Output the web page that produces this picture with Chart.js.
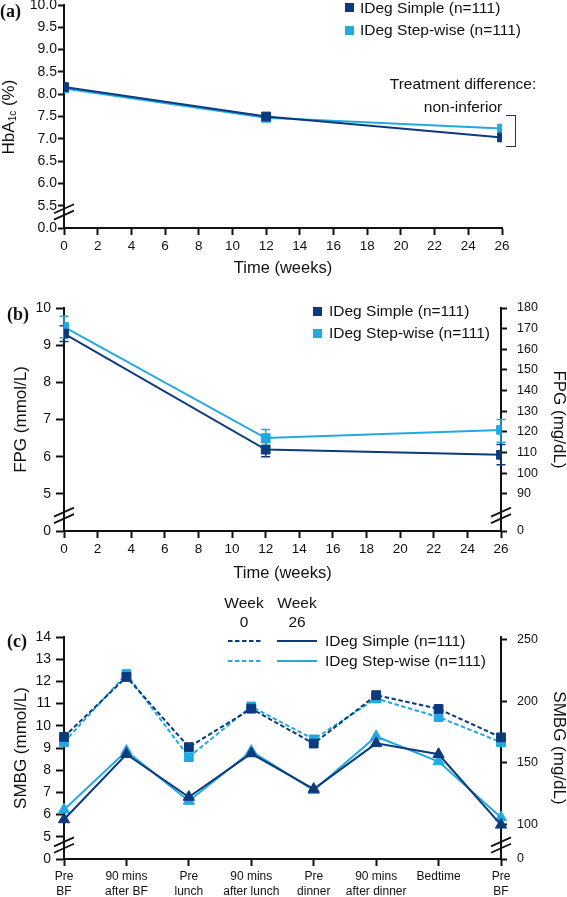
<!DOCTYPE html>
<html>
<head>
<meta charset="utf-8">
<script src="https://cdn.jsdelivr.net/npm/chart.js@4.4.0/dist/chart.umd.min.js"></script>
<style>
  body { margin: 0; background: #fff; width: 567px; height: 897px; position: relative; overflow: hidden;
         font-family: "Liberation Sans", Arial, sans-serif; color: #111; }
  canvas { position: absolute; left: 0; }
  .t { position: absolute; white-space: nowrap; font-size: 15.5px; line-height: 18px; }
  .c { transform: translateX(-50%); }
  .panel { position: absolute; font-family: "Liberation Serif", serif; font-weight: bold; font-size: 18px; line-height: 20px; }
  .sq { position: absolute; width: 9px; height: 9px; }
  .rot { position: absolute; white-space: nowrap; font-size: 17px; line-height: 20px; transform: translate(-50%, -50%) rotate(-90deg); }
  .rot sub { font-size: 10px; vertical-align: -2px; }
</style>
</head>
<body>
<canvas id="chartA" width="567" height="290" style="top:-5px"></canvas>
<canvas id="chartB" width="567" height="295" style="top:290px"></canvas>
<canvas id="chartC" width="567" height="317" style="top:580px"></canvas>

<!-- panel (a) extras -->
<div class="panel" style="left:0;top:1px">(a)</div>
<div class="rot" style="left:11px;top:117px">HbA<sub>1c</sub> (%)</div>
<div class="sq" style="left:345px;top:3px;background:#0c3a7d"></div>
<div class="t" style="left:360px;top:-1px">IDeg Simple (n=111)</div>
<div class="sq" style="left:345px;top:26px;background:#22a9e1"></div>
<div class="t" style="left:360px;top:21px">IDeg Step-wise (n=111)</div>
<div class="t c" style="left:463px;top:75px">Treatment difference:</div>
<div class="t c" style="left:463px;top:98px">non-inferior</div>
<div style="position:absolute;left:506px;top:115px;width:9px;height:30px;border:1.5px solid #333;border-left:none"></div>

<!-- panel (b) extras -->
<div class="panel" style="left:7px;top:304px">(b)</div>
<div class="sq" style="left:313px;top:307px;background:#0c3a7d"></div>
<div class="t" style="left:329px;top:302px">IDeg Simple (n=111)</div>
<div class="sq" style="left:313px;top:329px;background:#22a9e1"></div>
<div class="t" style="left:329px;top:324px">IDeg Step-wise (n=111)</div>

<!-- panel (c) extras -->
<div class="panel" style="left:7px;top:631px">(c)</div>
<div class="t c" style="left:244px;top:594px">Week</div>
<div class="t c" style="left:244px;top:613px">0</div>
<div class="t c" style="left:297px;top:594px">Week</div>
<div class="t c" style="left:297px;top:613px">26</div>
<svg style="position:absolute;left:225px;top:630px" width="95" height="40">
  <line x1="3" y1="11" x2="38" y2="11" stroke="#0c3a7d" stroke-width="2" stroke-dasharray="4.5 2.5"/>
  <line x1="3" y1="31" x2="38" y2="31" stroke="#22a9e1" stroke-width="2" stroke-dasharray="4.5 2.5"/>
  <line x1="52" y1="11" x2="92" y2="11" stroke="#0c3a7d" stroke-width="2"/>
  <line x1="52" y1="31" x2="92" y2="31" stroke="#22a9e1" stroke-width="2"/>
</svg>
<div class="t" style="left:325px;top:632px">IDeg Simple (n=111)</div>
<div class="t" style="left:325px;top:652px">IDeg Step-wise (n=111)</div>

<script>
// ---- data ----
const weeks = [0, 12, 26];

const hba1cSimple = [8.16, 7.50, 7.03];
const hba1cStep = [8.13, 7.47, 7.23];
const hba1cTicks = [0, 5.5, 6.0, 6.5, 7.0, 7.5, 8.0, 8.5, 9.0, 9.5, 10.0];

const fpgSimple = [9.31, 6.19, 6.05];
const fpgSimpleLo = [9.10, 6.00, 5.78];
const fpgSimpleHi = [9.52, 6.38, 6.33];
const fpgStep = [9.49, 6.50, 6.72];
const fpgStepLo = [9.20, 6.30, 6.39];
const fpgStepHi = [9.78, 6.73, 7.00];
const fpgMmolTicks = [0, 5, 6, 7, 8, 9, 10];
const fpgMgTicks = [0, 90, 100, 110, 120, 130, 140, 150, 160, 170, 180];

const smbgLabels = [['Pre', 'BF'], ['90 mins', 'after BF'], ['Pre', 'lunch'], ['90 mins', 'after lunch'],
                    ['Pre', 'dinner'], ['90 mins', 'after dinner'], 'Bedtime', ['Pre', 'BF']];
const smbgSimpleW0 = [9.50, 12.20, 9.04, 10.77, 9.20, 11.38, 10.76, 9.48];
const smbgStepW0 = [9.26, 12.33, 8.59, 10.87, 9.39, 11.23, 10.39, 9.26];
const smbgSimpleW26 = [5.78, 8.72, 6.79, 8.75, 7.15, 9.21, 8.72, 5.54];
const smbgStepW26 = [6.22, 8.86, 6.61, 8.86, 7.10, 9.52, 8.39, 5.87];
const smbgMmolTicks = [0, 5, 6, 7, 8, 9, 10, 11, 12, 13, 14];
const smbgMgTicks = [0, 100, 150, 200, 250];

const DARK = '#0c3a7d';
const LIGHT = '#22a9e1';
const INK = '#111';

Chart.defaults.font.family = "'Liberation Sans', Arial, sans-serif";
Chart.defaults.color = INK;

const xy = (vals) => vals.map((v, i) => ({ x: weeks[i], y: v }));

// axis with a break: the "0" tick sits at the floor of the visible range
function brokenAxis(ticks, floor, digits, extra) {
  const labels = ticks.map(t => t.toFixed(digits));
  return Object.assign({
    min: floor,
    afterBuildTicks: s => { s.ticks = ticks.map(t => ({ value: t === 0 ? floor : t })); },
    ticks: { callback: (v, i) => labels[i], font: { size: 14 }, autoSkip: false },
    grid: { drawOnChartArea: false, tickLength: 8, tickColor: INK, tickWidth: 2 },
    border: { color: INK, width: 2 }
  }, extra);
}

// little "//" marks across an axis
const axisBreak = {
  id: 'axisBreak',
  afterDraw(chart, args, opts) {
    const ctx = chart.ctx;
    ctx.save();
    ctx.strokeStyle = INK;
    ctx.lineWidth = 1.8;
    (opts.marks || []).forEach(m => {
      const x = m.side === 'right' ? chart.chartArea.right : chart.chartArea.left;
      const y = chart.scales[m.scale].getPixelForValue(m.value);
      [-3.2, 3.2].forEach(d => {
        ctx.beginPath();
        ctx.moveTo(x - 10, y + 4.5 + d);
        ctx.lineTo(x + 10, y - 4.5 + d);
        ctx.stroke();
      });
    });
    ctx.restore();
  }
};

// vertical error bars with caps, read from dataset.errLo / dataset.errHi
const errorBars = {
  id: 'errorBars',
  beforeDatasetsDraw(chart) {
    const ctx = chart.ctx;
    ctx.save();
    ctx.lineWidth = 1.5;
    chart.data.datasets.forEach((ds) => {
      if (!ds.errLo) return;
      const xs = chart.scales.x, ys = chart.scales.y;
      ctx.strokeStyle = ds.borderColor;
      ds.data.forEach((p, i) => {
        const x = xs.getPixelForValue(p.x);
        const y1 = ys.getPixelForValue(ds.errLo[i]);
        const y2 = ys.getPixelForValue(ds.errHi[i]);
        ctx.beginPath();
        ctx.moveTo(x, y1); ctx.lineTo(x, y2);
        ctx.moveTo(x - 4.5, y1); ctx.lineTo(x + 4.5, y1);
        ctx.moveTo(x - 4.5, y2); ctx.lineTo(x + 4.5, y2);
        ctx.stroke();
      });
    });
    ctx.restore();
  }
};

function lineSet(label, data, color, style, dashed) {
  return {
    label, data,
    borderColor: color, backgroundColor: color,
    borderWidth: 2, tension: 0,
    borderDash: dashed ? [4.5, 2.5] : [],
    pointStyle: style, pointRadius: style === 'triangle' ? 6.5 : 6.2,
    pointBorderWidth: 1, pointBorderColor: color, pointBackgroundColor: color
  };
}

const weekAxis = (h, titlePad) => ({
  type: 'linear', min: 0, max: 26,
  afterFit: s => { s.height = h; },
  ticks: { stepSize: 2, font: { size: 13.5 }, padding: 3, maxRotation: 0 },
  grid: { drawOnChartArea: false, tickLength: 7, tickColor: INK, tickWidth: 2 },
  border: { color: INK, width: 2 },
  title: { display: true, text: 'Time (weeks)', font: { size: 16.5 }, padding: { top: 0, bottom: titlePad } }
});

const baseOpts = {
  responsive: false, animation: false,
  plugins: { legend: { display: false }, tooltip: { enabled: false } }
};

// ---- (a) HbA1c ----
new Chart(document.getElementById('chartA'), {
  type: 'line',
  data: {
    datasets: [
      lineSet('IDeg Simple (n=111)', xy(hba1cSimple), DARK, 'rect'),
      lineSet('IDeg Step-wise (n=111)', xy(hba1cStep), LIGHT, 'rect')
    ]
  },
  options: Object.assign({}, baseOpts, {
    layout: { padding: { top: 10, right: 65, left: 0, bottom: 0 } },
    scales: {
      x: weekAxis(57, 6.8),
      y: brokenAxis(hba1cTicks, 5.0, 1, {
        max: 10,
        afterFit: s => { s.width = 64; },
        grid: { drawOnChartArea: false, tickLength: 6, tickColor: INK, tickWidth: 2 },
        ticks: { callback: (v, i) => hba1cTicks[i].toFixed(1), font: { size: 14 }, padding: 1 }
      })
    },
    plugins: Object.assign({}, baseOpts.plugins, {
      axisBreak: { marks: [{ scale: 'y', value: 5.36, side: 'left' }] }
    })
  }),
  plugins: [axisBreak]
});

// ---- (b) FPG ----
const simpleFpg = lineSet('IDeg Simple (n=111)', xy(fpgSimple), DARK, 'rect');
simpleFpg.errLo = fpgSimpleLo; simpleFpg.errHi = fpgSimpleHi;
const stepFpg = lineSet('IDeg Step-wise (n=111)', xy(fpgStep), LIGHT, 'rect');
stepFpg.errLo = fpgStepLo; stepFpg.errHi = fpgStepHi;

new Chart(document.getElementById('chartB'), {
  type: 'line',
  data: { datasets: [simpleFpg, stepFpg] },
  options: Object.assign({}, baseOpts, {
    layout: { padding: { top: 18, right: 0, left: 0, bottom: 0 } },
    scales: {
      x: weekAxis(54, 1.8),
      y: brokenAxis(fpgMmolTicks, 4, 0, {
        max: 10, position: 'left',
        afterFit: s => { s.width = 64; },
        ticks: { callback: (v, i) => String(fpgMmolTicks[i]), font: { size: 14 }, padding: 5 },
        title: { display: true, text: 'FPG (mmol/L)', font: { size: 17, lineHeight: 1 }, padding: { top: 12.5 } }
      }),
      y2: brokenAxis(fpgMgTicks, 72, 0, {
        max: 180, position: 'right',
        afterFit: s => { s.width = 66; },
        grid: { drawOnChartArea: false, tickLength: 6, tickColor: INK, tickWidth: 2 },
        ticks: { callback: (v, i) => String(fpgMgTicks[i]), font: { size: 12.5 }, padding: 10 },
        title: { display: true, text: 'FPG (mg/dL)', font: { size: 17, lineHeight: 1 }, padding: { top: 0 } }
      })
    },
    plugins: Object.assign({}, baseOpts.plugins, {
      axisBreak: { marks: [{ scale: 'y', value: 4.42, side: 'left' }, { scale: 'y', value: 4.42, side: 'right' }] }
    })
  }),
  plugins: [axisBreak, errorBars]
});

// ---- (c) SMBG ----
new Chart(document.getElementById('chartC'), {
  type: 'line',
  data: {
    labels: smbgLabels,
    datasets: [
      lineSet('IDeg Simple week 26', smbgSimpleW26, DARK, 'triangle', false),
      lineSet('IDeg Simple week 0', smbgSimpleW0, DARK, 'rect', true),
      lineSet('IDeg Step-wise week 26', smbgStepW26, LIGHT, 'triangle', false),
      lineSet('IDeg Step-wise week 0', smbgStepW0, LIGHT, 'rect', true)
    ]
  },
  options: Object.assign({}, baseOpts, {
    layout: { padding: { top: 57, right: 0, left: 0, bottom: 0 } },
    scales: {
      x: {
        type: 'category', offset: false,
        afterFit: s => { s.height = 38; },
        ticks: { font: { size: 12, lineHeight: 1.18 }, padding: 4, maxRotation: 0, autoSkip: false },
        grid: { drawOnChartArea: false, offset: false, tickLength: 7, tickColor: INK, tickWidth: 2 },
        border: { color: INK, width: 2 }
      },
      y: brokenAxis(smbgMmolTicks, 4, 0, {
        max: 14, position: 'left',
        afterFit: s => { s.width = 64; },
        ticks: { callback: (v, i) => String(smbgMmolTicks[i]), font: { size: 14 }, padding: 5 },
        title: { display: true, text: 'SMBG (mmol/L)', font: { size: 17, lineHeight: 1 }, padding: { top: 12.5 } }
      }),
      y2: brokenAxis(smbgMgTicks, 72, 0, {
        max: 252, position: 'right',
        afterFit: s => { s.width = 66; },
        grid: { drawOnChartArea: false, tickLength: 6, tickColor: INK, tickWidth: 2 },
        ticks: { callback: (v, i) => String(smbgMgTicks[i]), font: { size: 12.5 }, padding: 10 },
        title: { display: true, text: 'SMBG (mg/dL)', font: { size: 17, lineHeight: 1 }, padding: { top: 0 } }
      })
    },
    plugins: Object.assign({}, baseOpts.plugins, {
      axisBreak: { marks: [{ scale: 'y', value: 4.63, side: 'left' }, { scale: 'y', value: 4.63, side: 'right' }] }
    })
  }),
  plugins: [axisBreak]
});
</script>
</body>
</html>
